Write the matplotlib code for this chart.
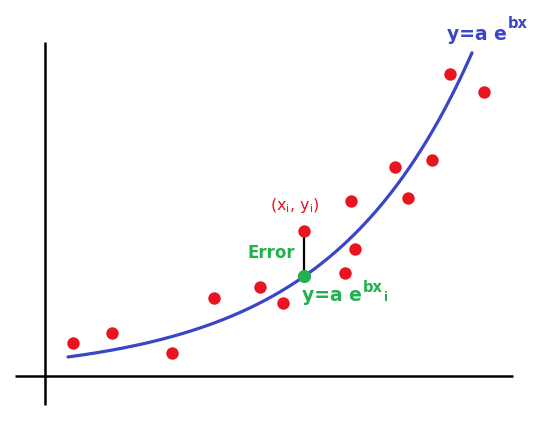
import matplotlib
matplotlib.use('Agg')
import matplotlib.pyplot as plt
import numpy as np

# --------- DATA (x right from the vertical axis, y up from the horizontal axis) ----------
pts_x = [28, 67, 127, 169, 215, 238, 259, 300, 306, 310, 350, 363, 387, 405, 439]
pts_y = [33, 43, 23, 78, 89, 73, 145, 103, 175, 127, 209, 178, 216, 302, 284]

# fitted curve y = a*exp(b*x)
a_fit = 16.2
b_fit = 0.00701
x_start, x_end = 23, 427

# the highlighted point (x_i, y_i)
xi, yi = 259, 145
# ------------------------------------------------------------------------------------------

red = '#e8141f'
blue = '#3a45c8'
green = '#22b14c'
font = 'DejaVu Sans'

fig = plt.figure(figsize=(5.5, 4.43), dpi=100)
ax = fig.add_axes([0, 0, 1, 1])
ax.set_xlim(-45, 505)
ax.set_ylim(-67, 376)
ax.axis('off')

# axes lines
ax.plot([-30, 468], [0, 0], color='black', lw=1.8, solid_capstyle='butt')
ax.plot([0, 0], [-29, 334], color='black', lw=1.8, solid_capstyle='butt')

# fitted curve
xc = np.linspace(x_start, x_end, 200)
yc = a_fit*np.exp(b_fit*xc)
ax.plot(xc, yc, color=blue, lw=2.3, solid_capstyle='round')

# data points
ax.scatter(pts_x, pts_y, s=80, color=red, zorder=3, linewidths=0)

# error segment and fitted point
yfit = a_fit*np.exp(b_fit*xi)
ax.plot([xi, xi], [yi, yfit], color='black', lw=1.6, zorder=2)
ax.scatter([xi], [yfit], s=90, color=green, zorder=4, linewidths=0)

# labels
ax.annotate(r'(x$_\mathregular{i}$, y$_\mathregular{i}$)', xy=(xi, yi), xytext=(-24.5, 15),
            textcoords='offset points', color=red, fontsize=11.5, family=font)
ax.annotate('Error', xy=(xi, yi), xytext=(-6.5, -19.5), textcoords='offset points',
            color=green, fontsize=12, fontweight='bold', family=font, ha='right')

t = ax.annotate('y=a e', xy=(xi, yfit), xytext=(-1.5, -18), textcoords='offset points',
                color=green, fontsize=13.5, fontweight='bold', family=font)
t2 = ax.annotate('bx', xy=(1, 0), xycoords=t, xytext=(0.5, 10), textcoords='offset points',
                 color=green, fontsize=10.5, fontweight='bold', family=font)
ax.annotate('i', xy=(1, 0), xycoords=t2, xytext=(1, -4.5), textcoords='offset points',
            color=green, fontsize=8.5, fontweight='bold', family=font)

tb = ax.annotate('y=a e', xy=(x_end, a_fit*np.exp(b_fit*x_end)), xytext=(-18, 9.5),
                 textcoords='offset points', color=blue, fontsize=13.5,
                 fontweight='bold', family=font)
ax.annotate('bx', xy=(1, 0), xycoords=tb, xytext=(0.5, 11), textcoords='offset points',
            color=blue, fontsize=10.5, fontweight='bold', family=font)

fig.savefig('out.png', dpi=100)
